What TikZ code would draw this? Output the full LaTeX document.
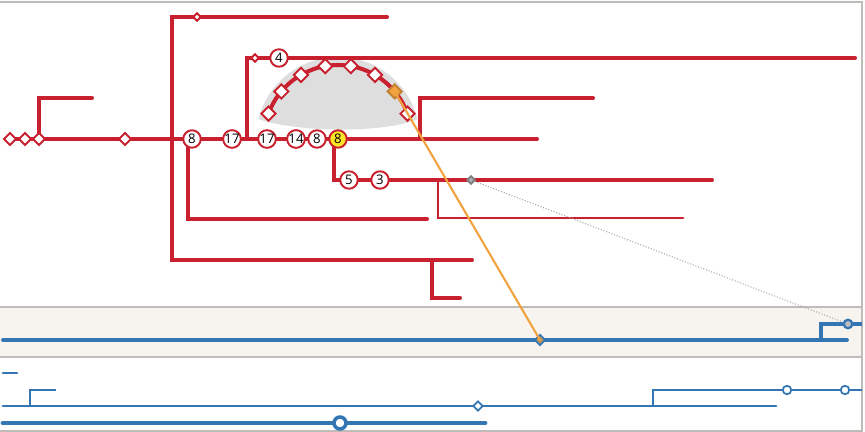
\documentclass[tikz,border=0pt]{standalone}
\usepackage{fontspec}
\setmainfont{Open Sans}
\usetikzlibrary{shapes.geometric,positioning,calc}
\definecolor{linered}{RGB}{200,32,46}
\definecolor{lineblue}{RGB}{52,118,180}
\definecolor{linkorange}{RGB}{242,162,62}
\definecolor{stopyellow}{RGB}{250,228,40}
\definecolor{domegray}{RGB}{222,222,222}
\definecolor{bandfill}{RGB}{247,244,240}
\definecolor{framegray}{RGB}{190,188,185}

\begin{document}
\begin{tikzpicture}[x=0.02cm, y=0.02cm,
    route/.style={draw=linered, line width=2.3pt, line cap=round},
    thinroute/.style={draw=linered, line width=1.6pt, line cap=round},
    stop/.style={circle, draw=linered, fill=white, line width=1.1pt, minimum size=0.35cm, inner sep=0pt, font=\fontsize{7.5}{7.5}\selectfont},
    gem/.style={diamond, draw=linered, fill=white, line width=1.1pt, minimum size=0.26cm, inner sep=0pt},
    arcgem/.style={gem, minimum size=0.3cm},
    smallgem/.style={gem, minimum size=0.17cm},
    track/.style={draw=lineblue, line width=2.2pt, line cap=round},
    ring/.style={circle, draw=lineblue, fill=white, line width=1pt, minimum size=0.17cm, inner sep=0pt}
]
\useasboundingbox (0,0) rectangle (865,-432);

% === FRAME & BAND ===
\fill[bandfill] (0,-307) rectangle (862,-357);
\draw[framegray, line width=0.8pt] (0,-2) -- (862,-2) -- (862,-431) -- (0,-431);
\draw[framegray, line width=0.8pt] (0,-307) -- (862,-307);
\draw[framegray, line width=0.8pt] (0,-357) -- (862,-357);

% === DOME ===
\coordinate (hub) at (338,-139);
\fill[domegray] ($(hub)+(166:1.64cm)$) arc[start angle=166, end angle=14, radius=1.64cm]
    .. controls (385,-133) and (300,-133) .. cycle;

% === RED NETWORK ===
\coordinate (mW) at (10,-139);
\coordinate (mE) at (537,-139);
\coordinate (spurA) at (39,-139);
\coordinate (spurAe) at (92,-98);
\coordinate (topE) at (387,-17);
\coordinate (trunkS) at (172,-260);
\coordinate (lowE) at (472,-260);
\coordinate (hookN) at (432,-260);
\coordinate (hookE) at (460,-298);
\coordinate (b8S) at (188,-139);
\coordinate (b8E) at (427,-219);
\coordinate (b4S) at (247,-139);
\coordinate (b4E) at (855,-58);
\coordinate (b5N) at (334,-139);
\coordinate (b5E) at (712,-180);
\coordinate (b3N) at (438,-180);
\coordinate (b3E) at (683,-218);
\coordinate (bUpS) at (420,-139);
\coordinate (bUpE) at (593,-98);

\draw[route] (mW) -- (mE);
\draw[route] (spurA) |- (spurAe);
\draw[route] (topE) -| (trunkS) -- (lowE);
\draw[route] (hookN) |- (hookE);
\draw[route] (b8S) |- (b8E);
\draw[route] (b4S) |- (b4E);
\draw[route] (b5N) |- (b5E);
\draw[thinroute] (b3N) |- (b3E);
\draw[route] (bUpS) |- (bUpE);
\draw[route] ($(hub)+(160:1.48cm)$) arc[start angle=160, end angle=20, radius=1.48cm];

% diamonds
\node[gem] (g1) at (10,-139) {};
\node[gem] (g2) at (25,-139) {};
\node[gem] (g3) at (39,-139) {};
\node[gem] (g4) at (125,-139) {};
\node[smallgem] (gTop) at (197,-17) {};
\node[smallgem] (g4s) at (255,-58) {};
\foreach \a in {160,140,120,100,80,60,20}
    \node[arcgem] (arc\a) at ($(hub)+(\a:1.48cm)$) {};
\node[arcgem, draw=linkorange!80!black, fill=linkorange] (arc40) at ($(hub)+(40:1.48cm)$) {};
\node[smallgem, draw=gray, fill=gray!60] (gGray) at (471,-180) {};

% stops
\node[stop] (s8a) at (192,-139) {8};
\node[stop] (s17a) at (232,-139) {17};
\node[stop] (s17b) at (267,-139) {17};
\node[stop] (s14) at (296,-139) {14};
\node[stop] (s8b) at (317,-139) {8};
\node[stop, fill=stopyellow] (s8y) at (hub) {8};
\node[stop] (s4) at (279,-58) {4};
\node[stop] (s5) at (349,-180) {5};
\node[stop] (s3) at (380,-180) {3};

% === BLUE TRACKS ===
\coordinate (bandW) at (3,-340);
\coordinate (bandE) at (847,-340);
\coordinate (bandBr) at (821,-340);
\coordinate (bandStub) at (862,-324);
\coordinate (dashW) at (3,-373);
\coordinate (dashE) at (17,-373);
\coordinate (midW) at (3,-406);
\coordinate (midE) at (776,-406);
\coordinate (midBrA) at (30,-406);
\coordinate (midBrAe) at (56,-390);
\coordinate (midBrB) at (653,-406);
\coordinate (midBrBe) at (862,-390);
\coordinate (lowW) at (3,-423);
\coordinate (lowE2) at (485,-423);

\draw[track] (bandW) -- (bandE);
\draw[draw=lineblue, line width=1.8pt] (bandBr) |- (bandStub);
\draw[track, line width=1.6pt] (dashW) -- (dashE);
\draw[track, line width=1.7pt] (midW) -- (midE);
\draw[draw=lineblue, line width=1pt] (midBrA) |- (midBrAe);
\draw[draw=lineblue, line width=1.1pt] (midBrB) |- (midBrBe);
\draw[track, line width=2.8pt] (lowW) -- (lowE2);

\node[diamond, draw=lineblue, fill=linkorange!60!gray, line width=1pt, minimum size=0.22cm, inner sep=0pt] (dBand) at (540,-340) {};
\node[ring, fill=gray!50, line width=1.3pt] (rBand) at (848,-324) {};
\node[diamond, draw=lineblue, fill=white, line width=1pt, minimum size=0.2cm, inner sep=0pt] (dMid) at (478,-406) {};
\node[ring] (rMidA) at (787,-390) {};
\node[ring] (rMidB) at (845,-390) {};
\node[ring, line width=2pt, minimum size=0.24cm] (rLow) at (340,-423) {};

% === LINKS ===
\draw[linkorange, line width=1.2pt] (arc40.center) -- (dBand.center);
\draw[gray!70, densely dotted, line width=0.6pt] (gGray) -- (rBand);

\end{tikzpicture}
\end{document}
